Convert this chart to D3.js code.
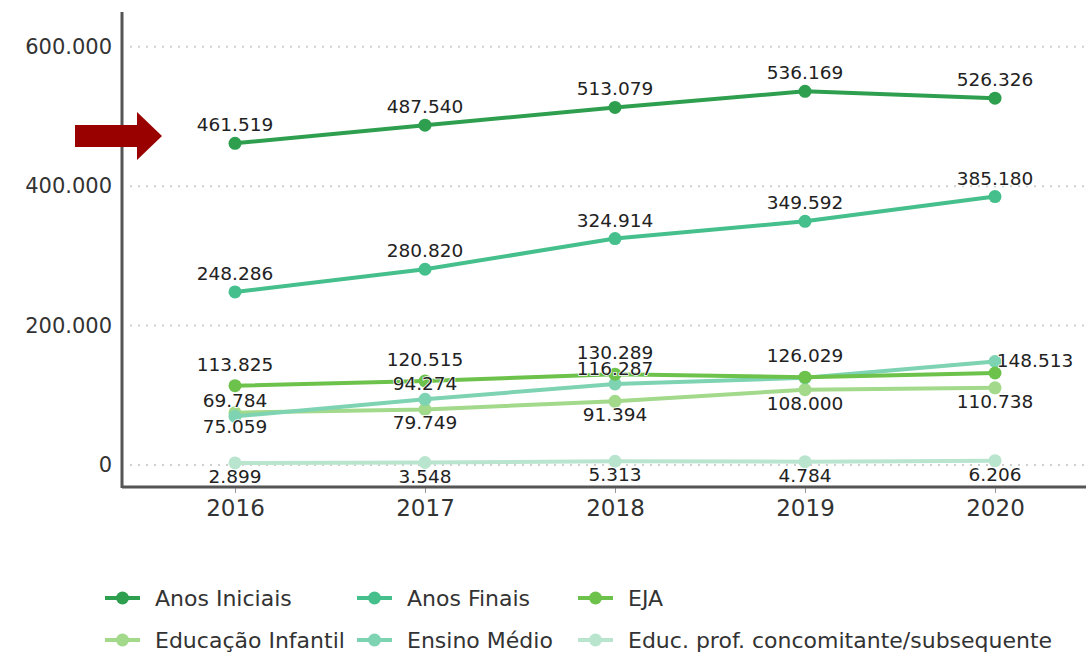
<!DOCTYPE html>
<html>
<head>
<meta charset="utf-8">
<script src="https://cdn.jsdelivr.net/npm/d3@7"></script>
<style>
  body { margin: 0; background: #fff; }
  text { font-family: "DejaVu Sans", sans-serif; }
</style>
</head>
<body>
<div id="chart"></div>
<script>
// anos
const years = ['2016', '2017', '2018', '2019', '2020'];
const yTicks = [0, 200000, 400000, 600000];

// séries
const seriesNames = ['Anos Iniciais', 'Anos Finais', 'EJA', 'Educação Infantil', 'Ensino Médio', 'Educ. prof. concomitante/subsequente'];
const anosIniciais = [461519, 487540, 513079, 536169, 526326];
const anosFinais = [248286, 280820, 324914, 349592, 385180];
const eja = [113825, 120515, 130289, 126029, 132000];
const educInfantil = [75059, 79749, 91394, 108000, 110738];
const ensinoMedio = [69784, 94274, 116287, 125000, 148513];
const educProf = [2899, 3548, 5313, 4784, 6206];

const colors = ['#2e9f4f', '#45bf8b', '#6cc24a', '#a2d98b', '#7dd3b2', '#b9e5cf'];
// deslocamento vertical do rótulo em relação ao ponto
const labelDy = [-12, -12, -15, 20, -9, 20];
// rótulos escondidos pela sobreposição (série, índice)
const hidden = [[4, 3], [2, 4]];

const width = 1086, height = 653;
const svg = d3.select('#chart').append('svg')
  .attr('width', width).attr('height', height);

const x = d3.scalePoint().domain(years).range([235, 995]);
const y = d3.scaleLinear().domain([-31600, 650000]).range([487, 12]);
const fmt = d3.formatLocale({decimal: ',', thousands: '.', grouping: [3], currency: ['', '']}).format(',');

// grade
svg.append('g').selectAll('line').data(yTicks).enter().append('line')
  .attr('x1', 130).attr('x2', width)
  .attr('y1', d => y(d)).attr('y2', d => y(d))
  .attr('stroke', '#cfcfcf').attr('stroke-width', 2)
  .attr('stroke-dasharray', '2,6');

// eixo y
const yAxis = svg.append('g').attr('class', 'y-axis')
  .attr('transform', 'translate(122,0)')
  .call(d3.axisLeft(y).tickValues(yTicks).tickSize(0).tickPadding(10).tickFormat(fmt));
yAxis.select('.domain').remove();
yAxis.selectAll('text').attr('font-size', 21).attr('fill', '#333').attr('font-family', 'DejaVu Sans');

// eixo x
const xAxis = svg.append('g').attr('class', 'x-axis')
  .attr('transform', 'translate(0,487)')
  .call(d3.axisBottom(x).tickSize(6).tickPadding(7));
xAxis.select('.domain').remove();
xAxis.selectAll('line').attr('stroke', '#999');
xAxis.selectAll('text').attr('font-size', 23).attr('fill', '#333').attr('font-family', 'DejaVu Sans');

svg.append('line').attr('x1', 122).attr('x2', width).attr('y1', 487).attr('y2', 487)
  .attr('stroke', '#555').attr('stroke-width', 3);
svg.append('line').attr('x1', 122).attr('x2', 122).attr('y1', 12).attr('y2', 488)
  .attr('stroke', '#555').attr('stroke-width', 3);

const allSeries = [anosIniciais, anosFinais, eja, educInfantil, ensinoMedio, educProf];
const line = d3.line().x((d, i) => x(years[i])).y(d => y(d));

// desenhar do último para o primeiro
const order = [5, 3, 4, 2, 1, 0];
order.forEach(s => {
  const vals = allSeries[s];
  const g = svg.append('g');
  g.append('path').attr('d', line(vals))
    .attr('fill', 'none').attr('stroke', colors[s]).attr('stroke-width', 4);
  g.selectAll('circle').data(vals).enter().append('circle')
    .attr('cx', (d, i) => x(years[i])).attr('cy', d => y(d)).attr('r', 6.5)
    .attr('fill', colors[s]);
});

// rótulos
const labels = [];
allSeries.forEach((vals, s) => vals.forEach((v, i) => {
  if (!hidden.some(h => h[0] === s && h[1] === i)) labels.push({s, i, v});
}));
// último ponto do Ensino Médio: rótulo à direita, na altura do ponto
const isRight = d => d.s === 4 && d.i === 4;
svg.append('g').selectAll('text').data(labels).enter().append('text')
  .attr('x', d => isRight(d) ? x(years[d.i]) + 40 : x(years[d.i]))
  .attr('y', d => isRight(d) ? y(d.v) + 6 : y(d.v) + labelDy[d.s])
  .attr('text-anchor', 'middle')
  .attr('font-size', 18.5).attr('fill', '#222')
  .style('paint-order', 'stroke').attr('stroke', '#fff').attr('stroke-width', 1.5)
  .text(d => fmt(d.v));

// legenda
const legX = [105, 357, 578], legY = [598, 640];
seriesNames.forEach((name, s) => {
  const lx = legX[s % 3], ly = legY[Math.floor(s / 3)];
  const g = svg.append('g').attr('transform', `translate(${lx},${ly})`);
  g.append('line').attr('x1', 0).attr('x2', 35).attr('y1', 0).attr('y2', 0)
    .attr('stroke', colors[s]).attr('stroke-width', 4);
  g.append('circle').attr('cx', 17.5).attr('cy', 0).attr('r', 6.5).attr('fill', colors[s]);
  g.append('text').attr('x', 50).attr('y', 8).attr('font-size', 22).attr('fill', '#333')
    .text(name);
});

// seta
svg.append('path')
  .attr('d', d3.line()([[75, 125], [137, 125], [137, 112], [162, 136], [137, 160], [137, 147], [75, 147]]) + 'Z')
  .attr('fill', '#990000');
</script>
</body>
</html>
